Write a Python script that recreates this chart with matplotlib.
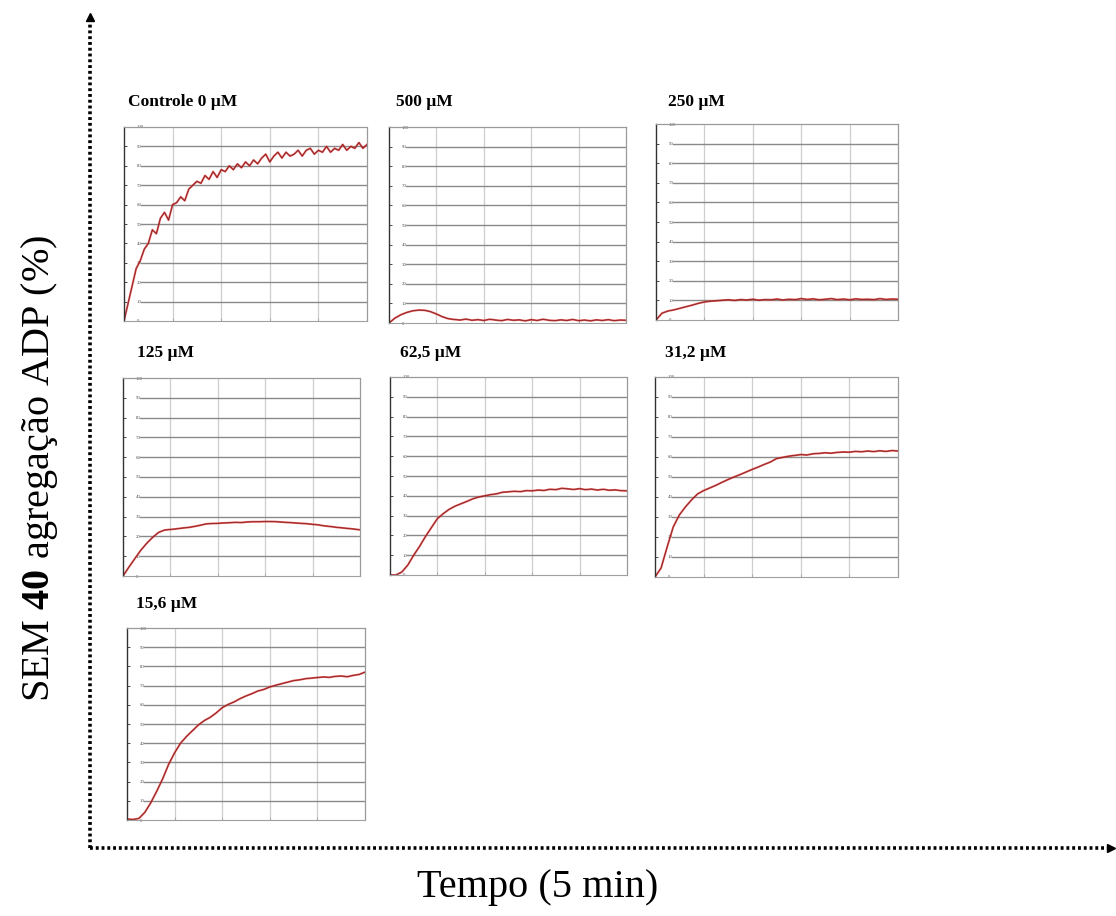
import matplotlib
matplotlib.use("Agg")
import matplotlib.pyplot as plt
import numpy as np

plt.rcParams['font.family'] = ['Liberation Serif', 'DejaVu Serif']
plt.rcParams['mathtext.fontset'] = 'custom'
plt.rcParams['mathtext.rm'] = 'Liberation Serif'
plt.rcParams['mathtext.bf'] = 'Liberation Serif:bold'

# aggregation curves (% vs time, 0-300 s)
titles = ['Controle 0 µM', '500 µM', '250 µM', '125 µM', '62,5 µM', '31,2 µM', '15,6 µM']

ctrl = [0, 9, 18, 27, 31, 37, 40, 47, 45, 53, 56, 52, 60, 61, 64, 62, 68, 70, 72, 71,
        75, 73, 77, 74, 78, 77, 80, 78, 81, 79, 82, 80, 83, 81, 84, 86, 82, 85, 87, 84,
        87, 85, 86, 88, 85, 88, 89, 86, 88, 87, 90, 87, 89, 88, 91, 88, 90, 89, 92, 89, 91]
c500 = [0, 2.5, 4.2, 5.4, 6.2, 6.6, 6.5, 5.8, 4.6, 3.2, 2.2, 1.8, 1.5, 2.0, 1.4, 1.7,
        1.3, 1.9, 1.5, 1.2, 1.8, 1.4, 1.6, 1.1, 1.7, 1.3, 1.9, 1.4, 1.2, 1.6, 1.3, 1.8,
        1.2, 1.5, 1.1, 1.6, 1.3, 1.7, 1.2, 1.5, 1.4]
c250 = [0, 3.5, 4.6, 5.2, 6.0, 6.8, 7.6, 8.5, 9.2, 9.6, 9.8, 10.1, 10.3, 10.0, 10.4,
        10.2, 10.6, 10.1, 10.4, 10.3, 10.7, 10.2, 10.6, 10.4, 10.9, 10.5, 10.8, 10.3,
        10.6, 10.9, 10.4, 10.7, 10.3, 10.8, 10.5, 10.6, 10.4, 10.9, 10.5, 10.7, 10.6]
c125 = [0, 4.5, 8.8, 13, 16.5, 19.5, 22, 23.2, 23.5, 23.8, 24.2, 24.5, 25, 25.6, 26.3,
        26.5, 26.6, 26.8, 26.9, 27.1, 27.0, 27.3, 27.4, 27.4, 27.5, 27.5, 27.4, 27.2,
        27.0, 26.8, 26.6, 26.4, 26.1, 25.8, 25.3, 25.0, 24.6, 24.3, 24.0, 23.7, 23.3]
c62 = [0, 0, 1.5, 5, 10, 14.5, 19.5, 24, 28.5, 31, 33.2, 34.8, 36, 37.2, 38.5, 39.4,
       40.0, 40.6, 41.0, 41.8, 42.0, 42.3, 42.1, 42.6, 42.5, 42.9, 42.7, 43.3, 43.1,
       43.8, 43.5, 43.2, 43.6, 43.1, 43.4, 42.9, 43.3, 42.8, 43.0, 42.6, 42.5]
c31 = [0, 4.5, 15, 25, 31, 35, 38.5, 41.5, 43.2, 44.5, 45.8, 47.3, 48.7, 50, 51.2, 52.5,
       53.8, 55.0, 56.3, 57.5, 59.2, 59.8, 60.4, 60.8, 61.2, 61.0, 61.6, 61.8, 62.1,
       61.9, 62.3, 62.5, 62.4, 62.8, 62.6, 63.0, 62.7, 63.1, 62.8, 63.2, 63.0]
c15 = [0.5, 0.3, 0.8, 4, 9, 15, 21.5, 29, 35, 40, 43.5, 46.5, 49.5, 51.8, 53.5, 55.8,
       58.5, 60.2, 61.5, 63.2, 64.6, 65.8, 67.2, 68.0, 69.3, 70.2, 71.0, 71.8, 72.6,
       73.0, 73.6, 73.9, 74.2, 74.5, 74.3, 74.8, 75.0, 74.6, 75.3, 75.8, 77.0]
series = [ctrl, c500, c250, c125, c62, c31, c15]

# panel boxes in pixels (left, top, right, bottom) and title anchors
W, H = 1116, 916
boxes = [(124, 127, 367, 321), (389, 127, 626, 323), (656, 124, 898, 320),
         (123, 378, 360, 576), (390, 377, 627, 575), (655, 377, 898, 577),
         (127, 628, 365, 820)]
title_pos = [(128, 102), (396, 102), (668, 102), (137, 353), (400, 353), (665, 353), (136, 604)]

fig = plt.figure(figsize=(W / 100, H / 100), dpi=100)

# big dotted axes with arrow heads
bg = fig.add_axes([0, 0, 1, 1])
bg.set_xlim(0, W)
bg.set_ylim(H, 0)
bg.axis('off')
bg.plot([90, 90], [848, 22], color='black', lw=2.6, ls=(0, (0.8, 0.8)))
bg.plot([90, 1108], [848, 848], color='black', lw=2.6, ls=(0, (0.8, 0.8)))
bg.plot([90], [17], marker='^', color='black', ms=6)
bg.plot([1111], [848], marker='>', color='black', ms=6)

for (l, t, r, b), (tx, ty), title, vals in zip(boxes, title_pos, titles, series):
    ax = fig.add_axes([l / W, 1 - b / H, (r - l) / W, (b - t) / H])
    time = np.linspace(0, 300, len(vals))
    ax.set_xlim(0, 300)
    ax.set_ylim(0, 100)
    for v in [60, 120, 180, 240]:
        ax.axvline(v, color='#cfcfcf', lw=0.9, zorder=0)
    for v in range(10, 100, 10):
        ax.axhline(v, xmin=0.07, xmax=1, color='#8a8a8a', lw=1.0, zorder=0)
    ax.plot(time, vals, color='#e03535', lw=1.4, alpha=0.85)
    ax.plot(time, vals, color='#5a1515', lw=0.5, alpha=0.8)
    ax.set_yticks(range(0, 101, 10))
    ax.set_xticks([60, 120, 180, 240])
    ax.set_xticklabels([])
    ax.tick_params(axis='y', direction='in', pad=-9, labelsize=3.5, labelcolor='#555555',
                   length=2, width=0.5)
    ax.tick_params(axis='x', direction='in', length=2, width=0.5, color='#999999')
    for lbl in ax.get_yticklabels():
        lbl.set_horizontalalignment('left')
    ax.spines['left'].set_color('#333333')
    ax.spines['left'].set_linewidth(1.0)
    for s in ['top', 'right']:
        ax.spines[s].set_color('#9a9a9a')
        ax.spines[s].set_linestyle((0, (2, 1)))
        ax.spines[s].set_linewidth(0.9)
    ax.spines['bottom'].set_color('#a0a0a0')
    fig.text(tx / W, 1 - ty / H, title, fontsize=12.5, fontweight='bold',
             ha='left', va='center')

fig.text(40 / W, 1 - 468 / H, r'SEM $\mathbf{40}$ agregação ADP (%)', rotation=90,
         fontsize=29, ha='center', va='center')
fig.text(538 / W, 1 - 888 / H, 'Tempo (5 min)', fontsize=29, ha='center', va='center')

fig.savefig('out.png', dpi=100)
